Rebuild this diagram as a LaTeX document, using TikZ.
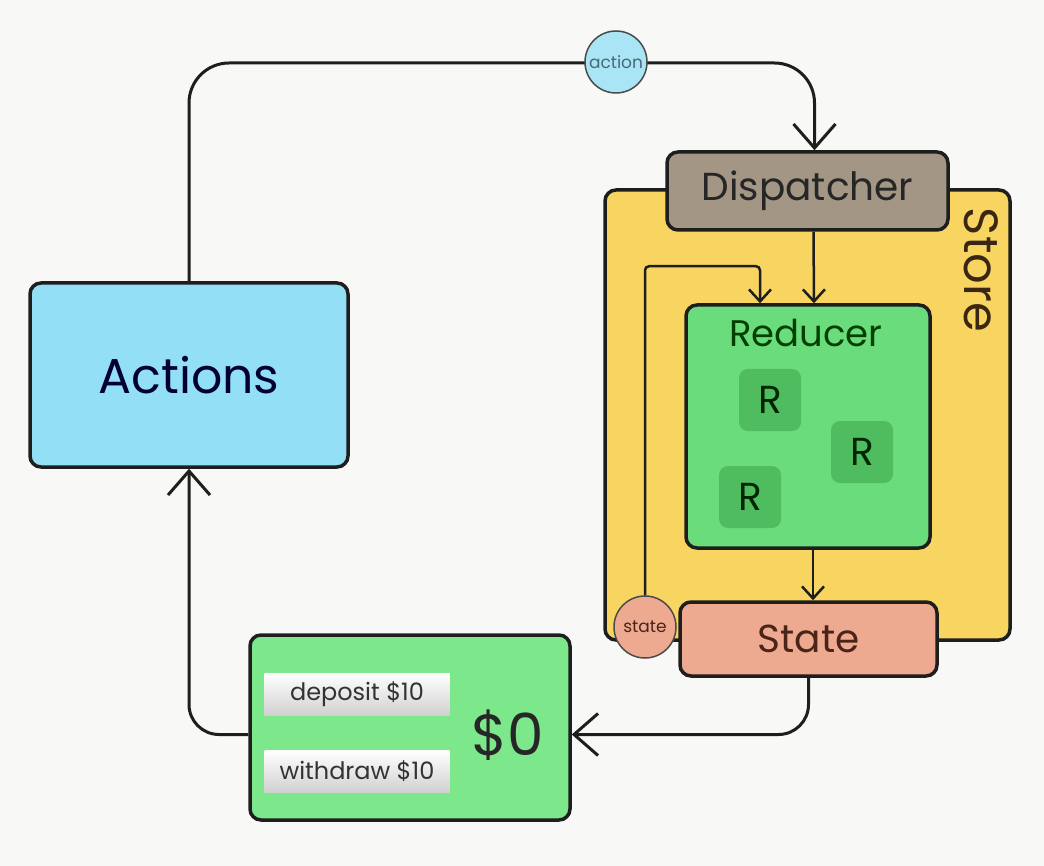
\documentclass[tikz,border=0pt]{standalone}
\usepackage{fontspec}
\setmainfont{Poppins}
\usetikzlibrary{arrows.meta}
\definecolor{paper}{HTML}{F8F8F6}
\definecolor{ink}{HTML}{1E1E1E}
\definecolor{actfill}{HTML}{92DFF6}
\definecolor{actcirc}{HTML}{A9E5F4}
\definecolor{dispfill}{HTML}{A39684}
\definecolor{storefill}{HTML}{F8D560}
\definecolor{redfill}{HTML}{6BDC7B}
\definecolor{rfill}{HTML}{4FBC5F}
\definecolor{statefill}{HTML}{EEAA90}
\definecolor{walletfill}{HTML}{7CE78B}
\definecolor{statetext}{HTML}{4A2418}
\begin{document}
\begin{tikzpicture}
[x=1pt, y=-1pt,
box/.style ={draw=ink, line width=3.5pt, rounded corners=11pt, inner sep=0pt},
rbox/.style ={fill=rfill, rounded corners=9pt, minimum size=62pt, inner sep=0pt,
  text=black!85!green, font=\fontsize{39}{42}\selectfont},
blob/.style ={draw=ink!80, line width=1.5pt, circle, minimum size=62pt, inner sep=0pt,
  font=\fontsize{17}{19}\selectfont},
btn/.style ={top color=white, bottom color=black!18, minimum width=185pt,
  minimum height=42pt, inner sep=0pt, text=black!80, font=\fontsize{24}{26}\selectfont},
link/.style ={draw=ink, line width=3pt,
  -{Straight Barb[length=24pt, width=42pt, line width=3pt]}},
slink/.style ={draw=ink, line width=2.5pt,
  -{Straight Barb[length=12pt, width=22pt, line width=2.5pt]}}]
\useasboundingbox[fill=paper] (0,0) rectangle (1044,866);
% store and the boxes in it
\node[box, fill=storefill, minimum width=405pt, minimum height=450pt] (store) at (807.5,415) {};
\node[rotate=-90, text=black!70!brown, font=\fontsize{48}{50}\selectfont] (storelabel) at (981,270) {Store};
\node[box, fill=dispfill, minimum width=281pt, minimum height=78pt,
  text=black!85, font=\fontsize{39}{42}\selectfont] (dispatcher) at (807.5,191) {Dispatcher};
\node[box, fill=redfill, minimum width=244pt, minimum height=243pt] (reducer) at (808,426.5) {};
\node[text=green!25!black, font=\fontsize{37}{40}\selectfont] (reducertitle) at (806,333) {Reducer};
\node[rbox] (r1) at (770,400) {R};
\node[rbox] (r2) at (862,452) {R};
\node[rbox] (r3) at (750,497) {R};
\node[box, fill=statefill, minimum width=257pt, minimum height=74pt,
  text=statetext, font=\fontsize{39}{42}\selectfont] (state) at (808.5,639) {State};
% actions and the wallet
\node[box, fill=actfill, minimum width=318pt, minimum height=184pt,
  text=blue!20!black, font=\fontsize{49}{52}\selectfont] (actions) at (189,375) {Actions};
\node[box, fill=walletfill, minimum width=320pt, minimum height=185pt] (wallet) at (410,727.5) {};
\node[btn] (deposit) at (357,694) {deposit \$10};
\node[btn] (withdraw) at (357,771) {withdraw \$10};
\node[text=black!85, font=\fontsize{58}{60}\selectfont] (balance) at (508,735) {\$0};
% connectors
\draw[link, rounded corners=40pt] (actions.north) |- (616,63) -| ([xshift=7pt]dispatcher.north);
\draw[slink] ([xshift=6pt]dispatcher.south) -- ([xshift=6pt]reducer.north);
\draw[slink] ([xshift=5pt]reducer.south) -- ([xshift=5pt]reducer.south |- state.north);
\draw[link, rounded corners=30pt] (state.south) |- ([yshift=-7pt]wallet.east);
\draw[link, rounded corners=30pt] ([yshift=-7pt]wallet.west) -| (actions.south);
\node[blob, fill=statefill, text=statetext] (statec) at (645,627) {state};
\draw[slink, rounded corners=4pt] (statec.north) |- ([xshift=-48pt,yshift=37pt]reducer.north)
  -- ([xshift=-48pt]reducer.north);
\node[blob, fill=actcirc, text=cyan!40!black] (actionc) at (616,62) {action};
\end{tikzpicture}
\end{document}
